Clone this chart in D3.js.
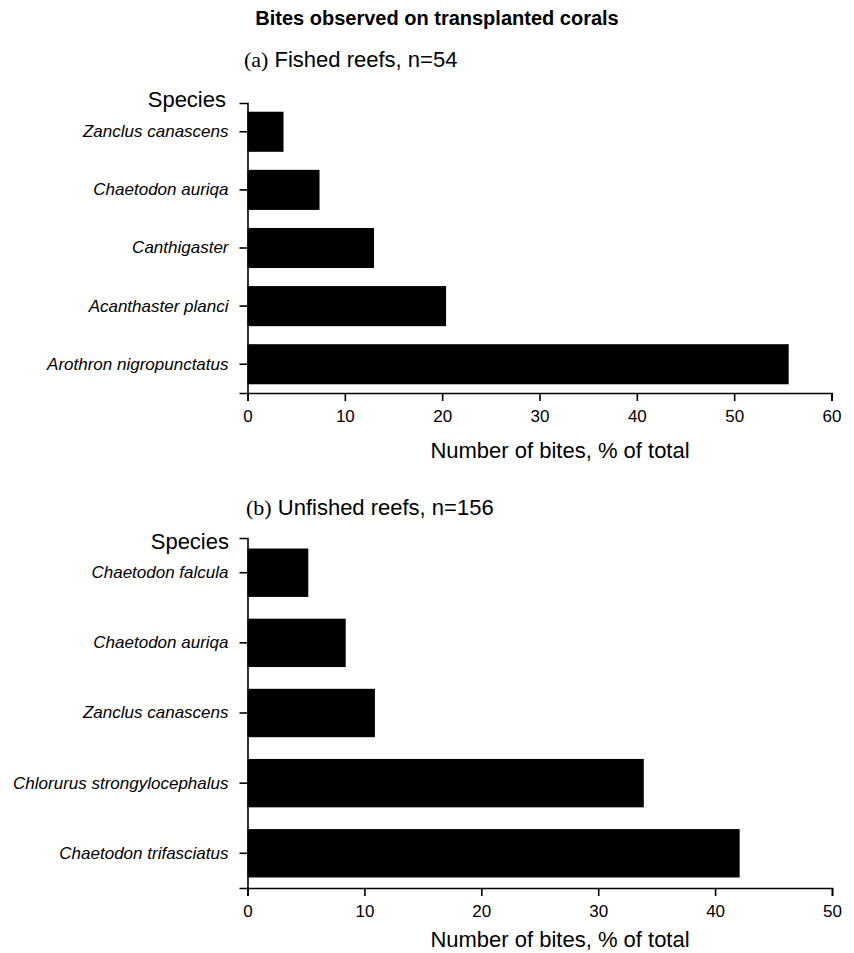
<!DOCTYPE html>
<html>
<head>
<meta charset="utf-8">
<script src="https://cdn.jsdelivr.net/npm/d3@7"></script>
<style>
  html, body { margin: 0; padding: 0; background: #fff; }
  svg { display: block; font-family: "Liberation Sans", Arial, Helvetica, sans-serif; }
  .domain { stroke: #000; stroke-width: 1.6; }
  .tick line { stroke: #000; stroke-width: 1.6; }
</style>
</head>
<body>
<svg id="chart" width="854" height="953"></svg>
<script>
// Share of bites by species, % of total
const fishedSpecies = ["Zanclus canascens", "Chaetodon auriqa", "Canthigaster", "Acanthaster planci", "Arothron nigropunctatus"];
const fishedValues = [3.7, 7.4, 13.0, 20.4, 55.6];
const fishedTicks = [0, 10, 20, 30, 40, 50, 60];

const unfishedSpecies = ["Chaetodon falcula", "Chaetodon auriqa", "Zanclus canascens", "Chlorurus strongylocephalus", "Chaetodon trifasciatus"];
const unfishedValues = [5.2, 8.4, 10.9, 33.9, 42.1];
const unfishedTicks = [0, 10, 20, 30, 40, 50];

const svg = d3.select("#chart");

svg.append("text")
  .attr("x", 437).attr("y", 25)
  .attr("text-anchor", "middle")
  .attr("font-weight", "bold")
  .attr("font-size", 20)
  .text("Bites observed on transplanted corals");

function panel(cfg) {
  const g = svg.append("g");

  // panel heading: serif letter tag followed by sans text
  const head = g.append("text")
    .attr("x", cfg.headX).attr("y", cfg.headY)
    .attr("font-size", 22);
  head.append("tspan")
    .attr("font-family", "'Liberation Serif', 'Times New Roman', serif")
    .text(cfg.tag);
  head.append("tspan").text(" " + cfg.heading);

  const x = d3.scaleLinear()
    .domain([0, d3.max(cfg.ticks)])
    .range(cfg.xRange);

  const y = d3.scaleBand()
    .domain(cfg.species)
    .range(cfg.yRange)
    .paddingInner(0.31)
    .paddingOuter(0.15);

  g.selectAll("rect.bar")
    .data(cfg.species.map((s, i) => ({ s, v: cfg.values[i] })))
    .join("rect")
    .attr("class", "bar")
    .attr("x", x(0))
    .attr("y", d => y(d.s))
    .attr("width", d => x(d.v) - x(0))
    .attr("height", y.bandwidth())
    .attr("fill", "#000");

  const xAxis = g.append("g")
    .attr("transform", `translate(0,${cfg.yRange[1]})`)
    .call(d3.axisBottom(x).tickValues(cfg.ticks).tickFormat(d3.format("d"))
      .tickSizeOuter(0).tickSize(8).tickPadding(9));
  xAxis.selectAll("text").attr("font-size", 17).attr("font-family", null).attr("fill", "#000");

  const yAxis = g.append("g")
    .attr("transform", `translate(${cfg.xRange[0]},0)`)
    .call(d3.axisLeft(y).tickSizeOuter(0).tickSize(8).tickPadding(11));
  yAxis.selectAll("text")
    .attr("font-size", 17)
    .attr("font-family", null)
    .attr("font-style", "italic")
    .attr("fill", "#000");

  g.append("text")
    .attr("x", cfg.speciesX).attr("y", cfg.speciesY)
    .attr("text-anchor", "end")
    .attr("font-size", 22)
    .text("Species");

  g.append("text")
    .attr("x", 560).attr("y", cfg.titleY)
    .attr("text-anchor", "middle")
    .attr("font-size", 22)
    .text("Number of bites, % of total");
}

panel({
  tag: "(a)", heading: "Fished reefs, n=54",
  headX: 244, headY: 67,
  species: fishedSpecies, values: fishedValues, ticks: fishedTicks,
  xRange: [247.5, 831.5], yRange: [103, 393],
  speciesX: 226, speciesY: 107,
  titleY: 458
});

panel({
  tag: "(b)", heading: "Unfished reefs, n=156",
  headX: 246, headY: 515,
  species: unfishedSpecies, values: unfishedValues, ticks: unfishedTicks,
  xRange: [247.5, 832], yRange: [538, 888],
  speciesX: 229, speciesY: 549,
  titleY: 947
});
</script>
</body>
</html>
